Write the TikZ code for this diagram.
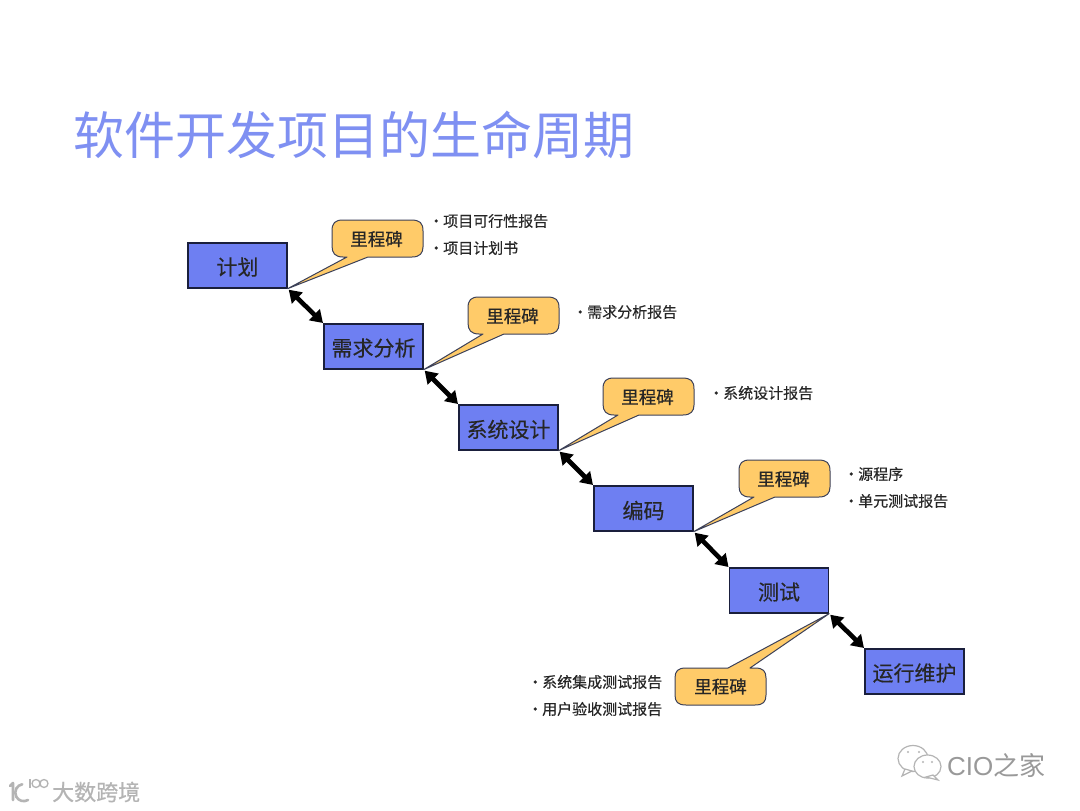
\documentclass[tikz,border=0pt]{standalone}
\usepackage{fontspec}
\setmainfont{Noto Sans CJK SC}
\newfontfamily\latinlight{Liberation Sans}
\newfontfamily\heavycjk[FakeBold=0.35]{Noto Sans CJK SC}
\newfontfamily\softcjk[FakeBold=0.6]{Noto Sans CJK SC}
\usetikzlibrary{arrows.meta}
\definecolor{boxblue}{HTML}{6E7FF2}
\definecolor{titleblue}{HTML}{7F90F2}
\definecolor{calloutgold}{HTML}{FFCB69}
\definecolor{edgeink}{HTML}{1A1F3C}
\definecolor{wmgray}{HTML}{B4B4B4}
\tikzset{
  phase/.style={draw=edgeink,line width=1.3pt,fill=boxblue,minimum width=99pt,minimum height=45pt,inner sep=0pt},
  phaselabel/.style={inner sep=0pt,font=\heavycjk\fontsize{21}{21}\selectfont,text=black!85},
  linker/.style={line width=4.6pt,black,{Triangle[length=12pt,width=15pt]}-{Triangle[length=12pt,width=15pt]},shorten >=0.5pt,shorten <=1.5pt},
  callout/.style={draw=edgeink!85,line width=1pt,fill=calloutgold,line join=round},
  mslabel/.style={inner sep=0pt,font=\heavycjk\fontsize{17.5}{17.5}\selectfont,text=black!85},
  deliverable/.style={anchor=west,inner sep=0pt,font=\heavycjk\fontsize{15}{15}\selectfont,text=black!85},
  wmline/.style={draw=wmgray,line width=1.2pt,fill=white},
}
\newcommand{\itemdot}{\makebox[6pt][c]{•}\hspace{4pt}}
% #1 name, #2 body left, #3 body top, #4 tail tip, #5 base-1 x offset, #6 base-2 x offset
\newcommand{\topcallout}[6]{%
  \path[callout] (#4) -- ({#2+#6},{#3+37}) -- ({#2+80},{#3+37})
    .. controls ({#2+88},{#3+37}) and ({#2+91},{#3+33}) .. ({#2+91},{#3+27})
    -- ({#2+91},{#3+11})
    .. controls ({#2+91},{#3+3}) and ({#2+88},{#3}) .. ({#2+79},{#3})
    -- ({#2+11},{#3})
    .. controls ({#2+3},{#3}) and ({#2},{#3+3}) .. ({#2},{#3+11})
    -- ({#2},{#3+26})
    .. controls ({#2},{#3+33}) and ({#2+3},{#3+37}) .. ({#2+11},{#3+37})
    -- ({#2+#5},{#3+37}) -- cycle;
  \node[mslabel] (#1) at ({#2+44.5},{#3+19}) {里程碑};
}
\begin{document}
\begin{tikzpicture}[x=1pt,y=-1pt]
\useasboundingbox[fill=white] (0,0) rectangle (1080,811);

\node[inner sep=0pt,text=titleblue,font=\fontsize{51}{51}\selectfont,anchor=center] (title) at (354,135) {软件开发项目的生命周期};

\node[phase] (plan) at (237.5,265.5) {};
\node[phase] (req) at (373.5,346.5) {};
\node[phase] (design) at (508.5,427.5) {};
\node[phase] (code) at (643.5,508.5) {};
\node[phase] (test) at (779,590.5) {};
\node[phase] (ops) at (914.5,671.5) {};
\node[phaselabel] (plant) at (237.5,267) {计划};
\node[phaselabel] (reqt) at (373.5,348) {需求分析};
\node[phaselabel] (designt) at (508.5,429.5) {系统设计};
\node[phaselabel] (codet) at (643.5,510.5) {编码};
\node[phaselabel] (testt) at (779,592) {测试};
\node[phaselabel] (opst) at (914.5,673) {运行维护};

\draw[linker] (plan.south east) -- (req.north west);
\draw[linker] (req.south east) -- (design.north west);
\draw[linker] (design.south east) -- (code.north west);
\draw[linker] (code.south east) -- (test.north west);
\draw[linker] (test.south east) -- (ops.north west);

\topcallout{m1}{332}{220}{plan.south east}{15}{36}
\topcallout{m2}{468}{297}{req.south east}{15}{36}
\topcallout{m3}{603}{378}{design.south east}{15}{36}
\topcallout{m4}{739}{460}{code.south east}{15}{36}

% lower callout, tail rising to the test box
\path[callout] (test.south east) -- (750,668) -- (755,668)
  .. controls (763,668) and (766,671) .. (766,678) -- (766,695)
  .. controls (766,702) and (763,705) .. (755,705) -- (686,705)
  .. controls (678,705) and (675,702) .. (675,695) -- (675,678)
  .. controls (675,671) and (678,668) .. (686,668) -- (728,668) -- cycle;
\node[mslabel] (m5) at (720.5,686.5) {里程碑};

\node[deliverable] (d1a) at (433,221) {\itemdot 项目可行性报告};
\node[deliverable] (d1b) at (433,248) {\itemdot 项目计划书};
\node[deliverable] (d2) at (577,312) {\itemdot 需求分析报告};
\node[deliverable] (d3) at (713,393) {\itemdot 系统设计报告};
\node[deliverable] (d4a) at (848,474) {\itemdot 源程序};
\node[deliverable] (d4b) at (848,501) {\itemdot 单元测试报告};
\node[deliverable] (d5a) at (532,682) {\itemdot 系统集成测试报告};
\node[deliverable] (d5b) at (532,709) {\itemdot 用户验收测试报告};

% watermark, lower left
\draw[wmgray,line width=2.6pt,line cap=round] (13,783) -- (13,800) (10,786) -- (13,783);
\draw[wmgray,line width=2.6pt,line cap=round] (28,800) arc (60:260:8.5);
\draw[wmgray,line width=1.3pt] (30,779) -- (30,788);
\draw[wmgray,line width=1.3pt] (36,783.5) circle (4) (44,783.5) circle (4);
\node[inner sep=0pt,anchor=west,text=wmgray,font=\softcjk\fontsize{22}{22}\selectfont] (wm1) at (52,792) {大数跨境};

% watermark, lower right
\path[wmline] (913,758.5) ellipse (15 and 13);
\path[wmline] (905,769) -- (902,776) -- (912,771) -- cycle;
\path[wmline] (927.5,766.5) ellipse (13.5 and 11.5);
\path[wmline] (933,775) -- (938,780) -- (926,777) -- cycle;
\fill[wmgray] (908,752) circle (1.1) (919,752) circle (1.1) (923,762) circle (1.1) (932,762) circle (1.1);
\node[inner sep=0pt,anchor=west,text=wmgray!85!black,font=\fontsize{26}{26}\selectfont] (wm2) at (947,765) {{\latinlight CIO}之家};
\end{tikzpicture}
\end{document}
